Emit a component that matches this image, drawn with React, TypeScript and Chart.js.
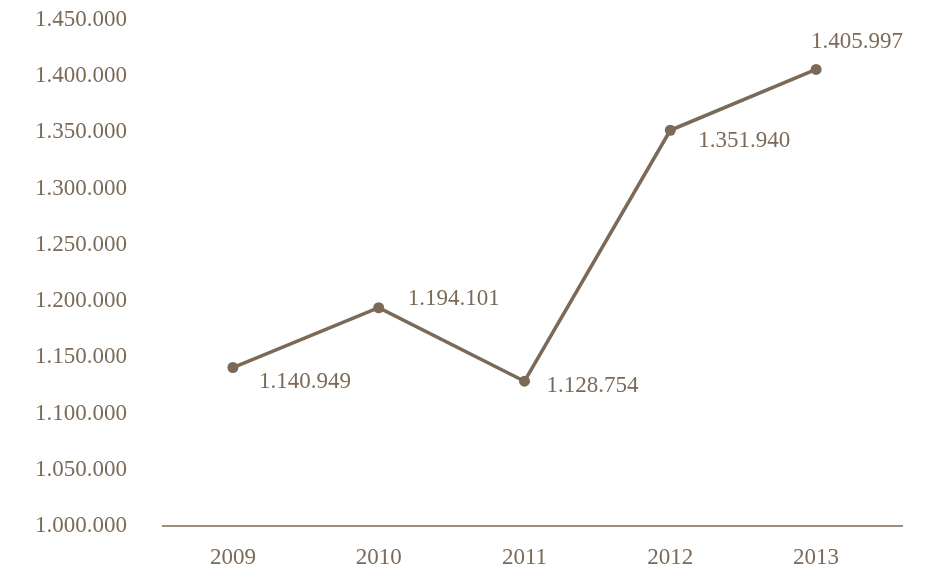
import React, { useEffect, useRef } from "react";
import { Chart, registerables } from "chart.js";

Chart.register(...registerables);

const years = ["2009", "2010", "2011", "2012", "2013"];
const values = [1140949, 1194101, 1128754, 1351940, 1405997];
const valueLabels = ["1.140.949", "1.194.101", "1.128.754", "1.351.940", "1.405.997"];
// label placement relative to each point (dx, dy)
const labelOffsets: [number, number][] = [
  [72, 14],
  [75, -9],
  [68, 5],
  [74, 11],
  [41, -28],
];

const COLOR = "#7b6a58";
const FONT = "'Liberation Serif', serif";
const FSIZE = 23;

const fmt = (v: number) => {
  const s = Math.round(v).toString();
  return s.replace(/\B(?=(\d{3})+(?!\d))/g, ".");
};

const labelPlugin = {
  id: "pointLabels",
  afterDatasetsDraw(chart: any) {
    const ctx = chart.ctx;
    const meta = chart.getDatasetMeta(0);
    ctx.save();
    ctx.fillStyle = COLOR;
    ctx.font = `${FSIZE}px ${FONT}`;
    ctx.textAlign = "center";
    ctx.textBaseline = "middle";
    meta.data.forEach((pt: any, i: number) => {
      const [dx, dy] = labelOffsets[i];
      ctx.fillText(valueLabels[i], pt.x + dx, pt.y + dy);
    });
    ctx.restore();
  },
  beforeDatasetsDraw(chart: any) {
    const { ctx, chartArea } = chart;
    ctx.save();
    ctx.strokeStyle = COLOR;
    ctx.lineWidth = 1.5;
    ctx.beginPath();
    ctx.moveTo(chartArea.left + 2, chartArea.bottom);
    ctx.lineTo(chartArea.right + 14, chartArea.bottom);
    ctx.stroke();
    ctx.restore();
  },
};

export default function App() {
  const ref = useRef<HTMLCanvasElement>(null);
  useEffect(() => {
    if (!ref.current) return;
    const chart = new Chart(ref.current, {
      type: "line",
      data: {
        labels: years,
        datasets: [
          {
            data: values,
            borderColor: COLOR,
            backgroundColor: COLOR,
            borderWidth: 3.5,
            pointRadius: 5.5,
            pointHoverRadius: 5.5,
            pointBackgroundColor: COLOR,
            pointBorderWidth: 0,
            tension: 0,
          },
        ],
      },
      options: {
        animation: false,
        responsive: false,
        layout: { padding: { top: 20, right: 42, bottom: 0, left: 0 } },
        plugins: { legend: { display: false }, tooltip: { enabled: false } },
        scales: {
          x: {
            type: "category",
            offset: true,
            grid: { display: false, drawTicks: false },
            border: { display: false },
            ticks: { color: COLOR, font: { family: FONT, size: FSIZE }, padding: 18 },
            afterFit: (s: any) => { s.height = 47; s.paddingLeft = 0; s.paddingRight = 0; },
          },
          y: {
            min: 1000000,
            max: 1450000,
            grid: { display: false, drawTicks: false },
            border: { display: false },
            ticks: {
              stepSize: 50000,
              color: COLOR,
              font: { family: FONT, size: FSIZE },
              padding: 33,
              callback: (v: any) => fmt(Number(v)),
            },
            afterFit: (s: any) => { s.width = 160; s.paddingTop = 0; s.paddingBottom = 0; },
          },
        },
      },
      plugins: [labelPlugin],
    });
    return () => chart.destroy();
  }, []);
  return (
    <div style={{ position: "fixed", left: 0, top: 0, width: 931, height: 573, background: "#fff" }}>
      <canvas ref={ref} width={931} height={573} style={{ width: 931, height: 573 }} />
    </div>
  );
}
